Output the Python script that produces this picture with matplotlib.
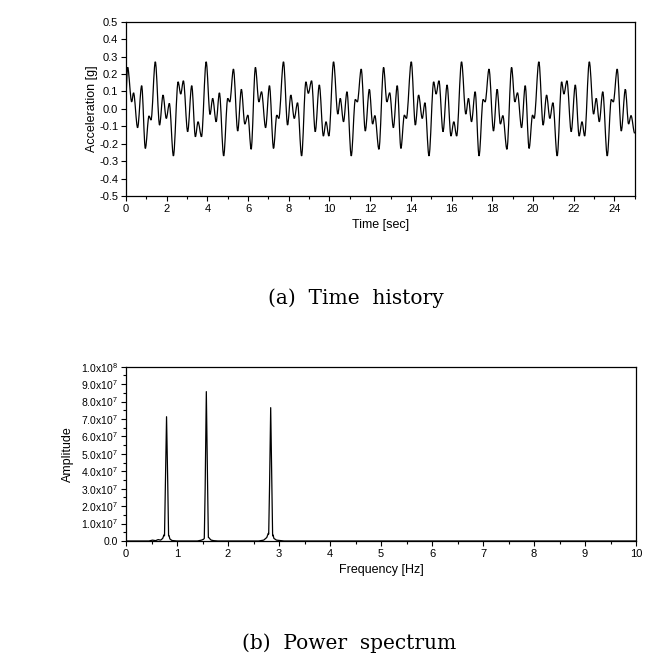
import numpy as np
import matplotlib
matplotlib.use("Agg")
import matplotlib.pyplot as plt
from matplotlib.path import Path
from matplotlib.patches import PathPatch
from matplotlib.ticker import MultipleLocator, FixedLocator

plt.rcParams['font.family'] = ['Liberation Sans', 'DejaVu Sans']
plt.rcParams['mathtext.fontset'] = 'custom'
plt.rcParams['mathtext.rm'] = 'Liberation Sans'
plt.rcParams['mathtext.it'] = 'Liberation Sans'

# time history: peaks / troughs (sec, g)
t_ext = [0.00, 0.08, 0.28, 0.37, 0.57, 0.77, 0.95, 1.13, 1.23, 1.44, 1.65, 1.82, 1.98, 2.13,
         2.33, 2.56, 2.69, 2.82, 3.03, 3.23, 3.41, 3.54, 3.71, 3.94, 4.13, 4.26, 4.43, 4.59,
         4.80, 5.00, 5.10, 5.28, 5.49, 5.67, 5.84, 5.99, 6.15, 6.36, 6.53, 6.66, 6.86, 7.05,
         7.25, 7.41, 7.51, 7.74, 7.94, 8.10, 8.27, 8.43, 8.63, 8.84, 8.96, 9.12, 9.30, 9.50,
         9.70, 9.83, 9.97, 10.20, 10.41, 10.53, 10.69, 10.86, 11.07, 11.27, 11.37, 11.56,
         11.76, 11.96, 12.12, 12.23, 12.43, 12.66, 12.82, 12.96, 13.14, 13.33, 13.51, 13.68,
         13.78, 14.02, 14.22, 14.38, 14.56, 14.69, 14.89, 15.12, 15.24, 15.38, 15.58, 15.78,
         15.97, 16.11, 16.25, 16.49, 16.70, 16.83, 16.98, 17.16, 17.35, 17.55, 17.65, 17.84,
         18.06, 18.24, 18.40, 18.52, 18.72, 18.95, 19.11, 19.24, 19.44, 19.62, 19.81, 19.98,
         20.06, 20.29, 20.50, 20.67, 20.83, 20.98, 21.19, 21.41, 21.52, 21.67, 21.88, 22.08,
         22.27, 22.41, 22.54, 22.77, 22.98, 23.11, 23.26, 23.43, 23.65, 23.85, 23.95, 24.14,
         24.34, 24.54, 24.70, 24.82, 25.00]
a_ext = [0.10, 0.238, 0.04, 0.092, -0.108, 0.133, -0.227, -0.041, -0.064, 0.27, -0.093, 0.079, -0.055, 0.031,
         -0.27, 0.155, 0.085, 0.161, -0.131, 0.133, -0.16, -0.074, -0.16, 0.27, -0.032, 0.06, -0.074, 0.092,
         -0.27, 0.06, 0.04, 0.228, -0.127, 0.112, -0.087, -0.036, -0.232, 0.238, 0.04, 0.098, -0.108, 0.133,
         -0.227, -0.036, -0.055, 0.27, -0.093, 0.079, -0.055, 0.035, -0.27, 0.155, 0.089, 0.161, -0.131, 0.137,
         -0.156, -0.074, -0.156, 0.27, -0.03, 0.06, -0.074, 0.098, -0.27, 0.054, 0.04, 0.228,
         -0.127, 0.112, -0.087, -0.039, -0.232, 0.238, 0.04, 0.092, -0.108, 0.133, -0.227, -0.036,
         -0.055, 0.27, -0.093, 0.079, -0.055, 0.035, -0.27, 0.155, 0.085, 0.161, -0.131, 0.137,
         -0.156, -0.074, -0.156, 0.27, -0.03, 0.06, -0.074, 0.098, -0.27, 0.054, 0.04, 0.228,
         -0.127, 0.112, -0.087, -0.039, -0.232, 0.238, 0.04, 0.092, -0.108, 0.133, -0.227, -0.036,
         -0.055, 0.27, -0.093, 0.079, -0.055, 0.035, -0.27, 0.155, 0.085, 0.161, -0.131, 0.137,
         -0.156, -0.074, -0.156, 0.27, -0.03, 0.06, -0.074, 0.098, -0.27, 0.054, 0.04, 0.228,
         -0.127, 0.112, -0.087, -0.039, -0.14]

# power spectrum (Hz, amplitude x1e7)
freq = [0.0, 0.45, 0.52, 0.58, 0.63, 0.68, 0.72, 0.745, 0.755, 0.772, 0.795, 0.818, 0.835, 0.845, 0.86, 0.9, 1.0,
        1.4, 1.48, 1.52, 1.535, 1.552, 1.575, 1.598, 1.615, 1.63, 1.645, 1.67, 1.72, 1.8,
        2.6, 2.7, 2.76, 2.79, 2.798, 2.815, 2.837, 2.86, 2.875, 2.885, 2.9, 2.95, 3.1, 10.0]
amp = [0.0, 0.0, 0.05, 0.02, 0.08, 0.05, 0.15, 0.35, 0.3, 3.2, 7.13, 3.4, 0.3, 0.3, 0.12, 0.03, 0.0,
       0.0, 0.05, 0.1, 0.15, 3.0, 8.57, 3.6, 0.2, 0.18, 0.12, 0.05, 0.02, 0.0,
       0.0, 0.05, 0.2, 0.44, 0.4, 3.2, 7.65, 3.2, 0.3, 0.34, 0.15, 0.05, 0.0, 0.0]

fig = plt.figure(figsize=(6.55, 6.57), dpi=100)

# ---- (a) time history
ax1 = fig.add_axes([126/655, 1 - 196/657, 508.7/655, 174.3/657])
verts = [(t_ext[0], a_ext[0])]
codes = [Path.MOVETO]
for i in range(1, len(t_ext)):
    dt = t_ext[i] - t_ext[i-1]
    verts += [(t_ext[i-1] + dt/3, a_ext[i-1]), (t_ext[i] - dt/3, a_ext[i]), (t_ext[i], a_ext[i])]
    codes += [Path.CURVE4] * 3
ax1.add_patch(PathPatch(Path(verts, codes), fill=False, edgecolor='black', lw=0.9))
ax1.set_xlim(0, 25)
ax1.set_ylim(-0.5, 0.5)
ax1.xaxis.set_major_locator(MultipleLocator(2))
ax1.xaxis.set_minor_locator(MultipleLocator(1))
ax1.yaxis.set_major_locator(MultipleLocator(0.1))
ax1.set_yticklabels(['%.1f' % v for v in ax1.get_yticks()])
ax1.set_xlabel('Time [sec]', fontsize=9, labelpad=4)
ax1.set_ylabel('Acceleration [g]', fontsize=9, labelpad=1)

# ---- (b) power spectrum
ax2 = fig.add_axes([126/655, 1 - 541/657, 510/655, 174.3/657])
ax2.plot(freq, np.array(amp) * 1e7, color='black', lw=0.9)
ax2.set_xlim(0, 10)
ax2.set_ylim(0, 1e8)
ax2.xaxis.set_major_locator(MultipleLocator(1))
ax2.xaxis.set_minor_locator(MultipleLocator(0.5))
yt = np.arange(0, 11) * 1e7
ax2.yaxis.set_major_locator(FixedLocator(yt))
ax2.yaxis.set_minor_locator(MultipleLocator(0.5e7))
ylabs = ['0.0'] + ['%.1fx10$^{7}$' % k for k in range(1, 10)] + ['1.0x10$^{8}$']
ax2.set_yticklabels(ylabs)
ax2.set_xlabel('Frequency [Hz]', fontsize=9, labelpad=4)
ax2.set_ylabel('Amplitude', fontsize=9, labelpad=5)

for ax in (ax1, ax2):
    ax.tick_params(which='both', direction='out', labelsize=8, top=False, right=False, pad=2)
    ax.tick_params(which='major', length=3.5, width=0.8)
    ax.tick_params(which='minor', length=2, width=0.8)
    for s in ax.spines.values():
        s.set_linewidth(0.9)
ax2.tick_params(axis='y', labelsize=7.5)

fig.text(356/655, 1 - 298/657, '(a)  Time  history', ha='center', va='center',
         fontsize=14.5, family=['DejaVu Serif'])
fig.text(349/655, 1 - 643/657, '(b)  Power  spectrum', ha='center', va='center',
         fontsize=14.5, family=['DejaVu Serif'])

fig.savefig('out.png', dpi=100)
